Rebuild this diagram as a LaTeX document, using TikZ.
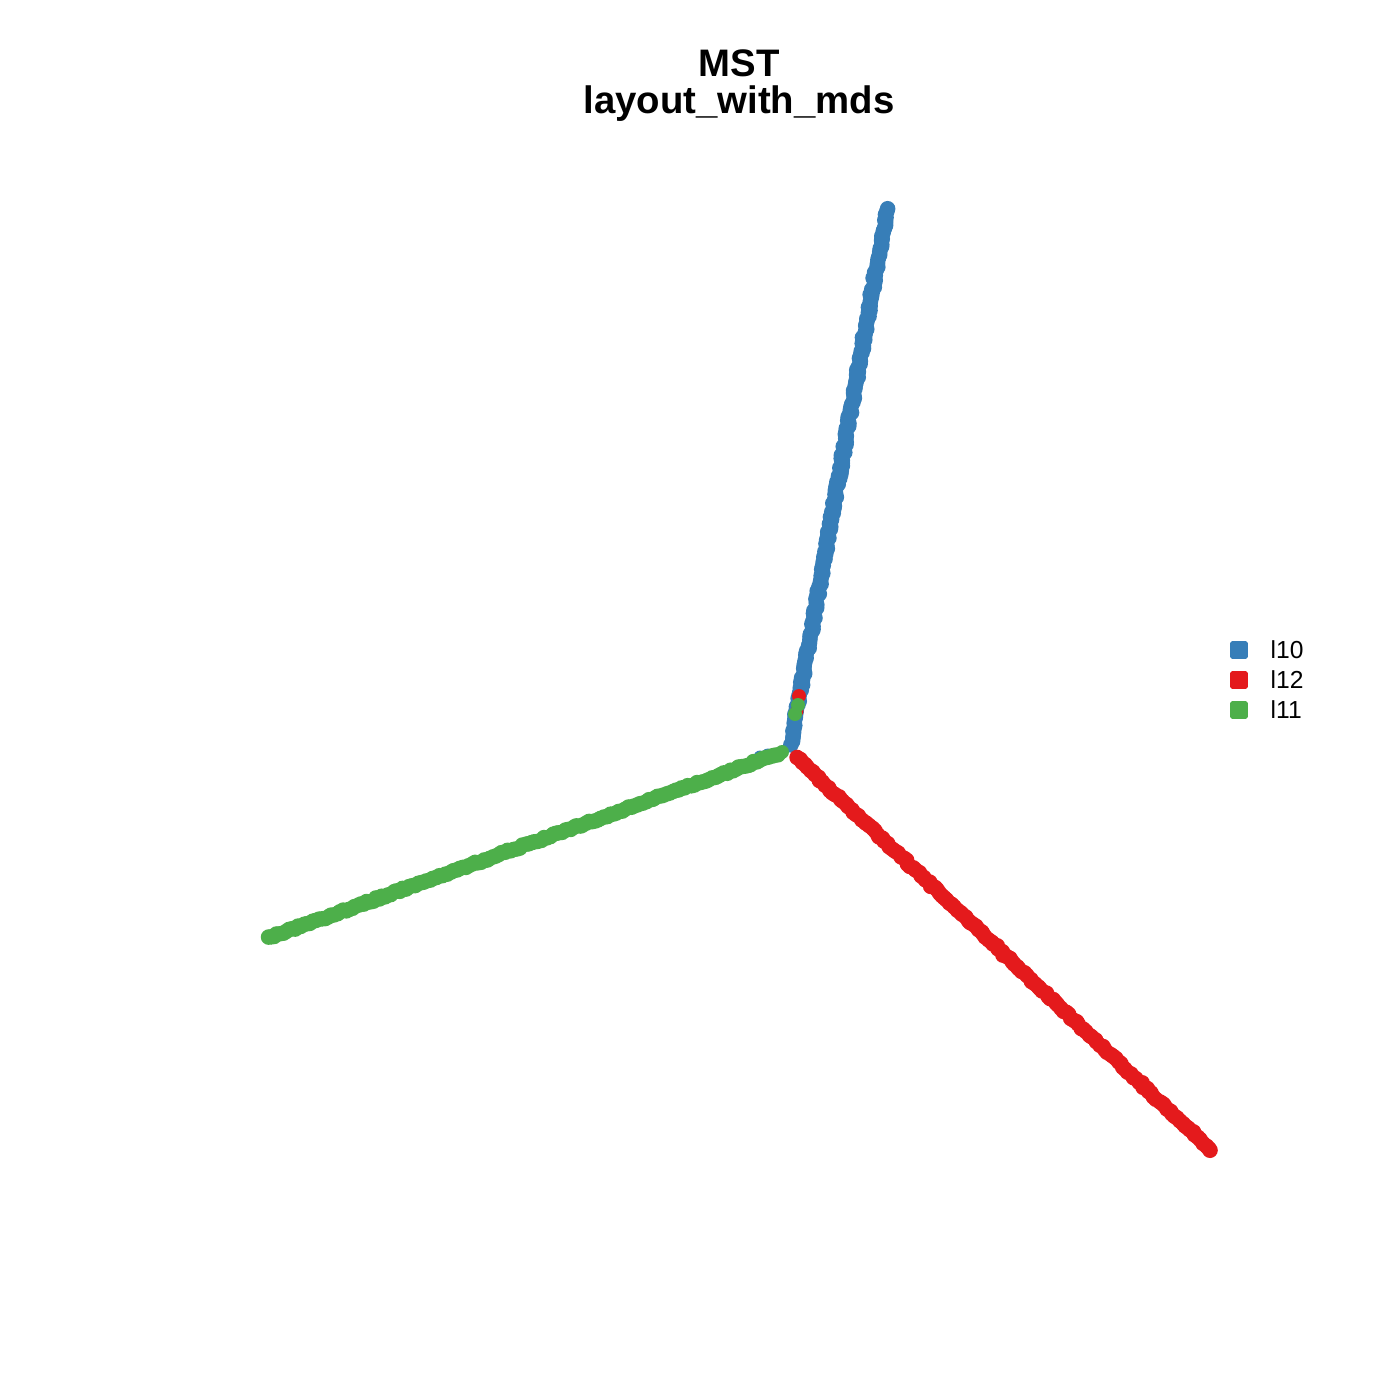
\documentclass[tikz,border=0pt]{standalone}
\usepackage{fontspec}
\setmainfont{Liberation Sans}
\usetikzlibrary{calc}
\definecolor{ltencol}{HTML}{377EB8}
\definecolor{ltwelvecol}{HTML}{E41A1C}
\definecolor{lelevencol}{HTML}{4DAF4A}
\tikzset{titletext/.style={font=\fontsize{10.9}{12}\selectfont\bfseries},
  legtext/.style={font=\fontsize{7}{8}\selectfont,anchor=west,inner sep=0pt},
  legkey/.style={minimum size=5pt,inner sep=0pt,rounded corners=0.5pt}}
\begin{document}
\begin{tikzpicture}[x=0.01cm,y=-0.01cm]
  \useasboundingbox[fill=white] (0,0) rectangle (1400,1400); % page
  \pgfmathsetseed{11}

  \node[titletext] (title) at (739,63) {MST};
  \node[titletext] (subtitle) at (739,104) {layout\_with\_mds};

  \coordinate (tipten) at (887,209);    % end of l10 arm
  \coordinate (hubten) at (791,744);
  \coordinate (tipeleven) at (268,938); % end of l11 arm
  \coordinate (hubeleven) at (778,754);
  \coordinate (tiptwelve) at (1211,1150); % end of l12 arm
  \coordinate (hubtwelve) at (797,758);

  % l10 arm
  \foreach \t in {0,...,200}
    \fill[ltencol] ($(tipten)!{\t/200}!(hubten)$) ++(1.5*rand,0.8*rand) circle (7.8);
  \fill[ltencol] (768,756) circle (7.5);
  \fill[ltencol] (760,757) circle (6.5);

  % l12 arm
  \foreach \t in {0,...,160}
    \fill[ltwelvecol] ($(hubtwelve)!{\t/160}!(tiptwelve)$) ++(1.1*rand,1.1*rand) circle (7.8);
  \fill[ltwelvecol] (799,696) circle (7);
  \fill[ltwelvecol] (797,711) circle (6.5);

  % l11 arm
  \foreach \t in {0,...,170}
    \fill[lelevencol] ($(tipeleven)!{\t/170}!(hubeleven)$) ++(0.6*rand,1.1*rand) circle (7.8);
  \fill[lelevencol] (782,752) circle (7);
  \fill[lelevencol] (798,705) circle (7);
  \fill[lelevencol] (795,714) circle (7);

  % legend
  \node[legkey,fill=ltencol] (keyten) at (1239,650) {};
  \node[legkey,fill=ltwelvecol] (keytwelve) at (1239,680) {};
  \node[legkey,fill=lelevencol] (keyeleven) at (1239,710) {};
  \node[legtext] (labten) at (1270,650) {l10};
  \node[legtext] (labtwelve) at (1270,680) {l12};
  \node[legtext] (labeleven) at (1270,710) {l11};
\end{tikzpicture}
\end{document}
